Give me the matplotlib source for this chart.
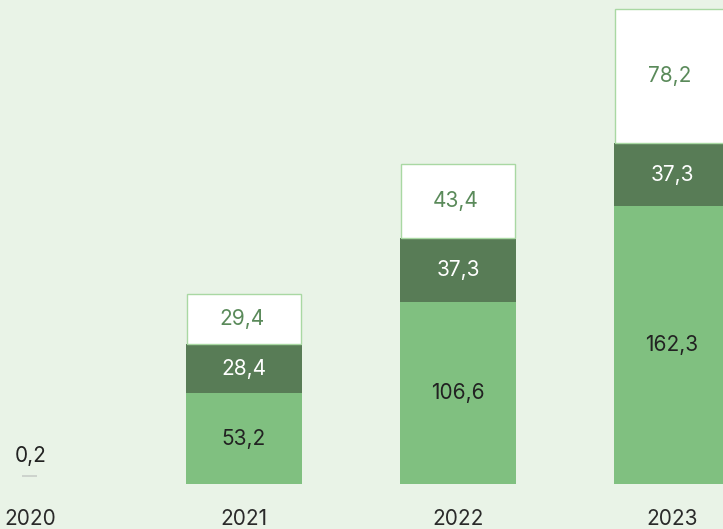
import matplotlib.pyplot as plt

# Values per year (stacked: base, middle, top)
years = ["2020", "2021", "2022", "2023"]
base = [0.2, 53.2, 106.6, 162.3]
middle = [0.0, 28.4, 37.3, 37.3]
top = [0.0, 29.4, 43.4, 78.2]

BG = "#e9f3e7"
LIGHT = "#80c080"
DARK = "#587c56"
EDGE = "#a9d8a3"
TXT_TOP = "#5a8a5a"
FS = 15

plt.rcParams["font.family"] = ["Inter", "DejaVu Sans"]

fig = plt.figure(figsize=(7.23, 5.29), dpi=100, facecolor=BG)
ax = fig.add_axes([0, 0, 1, 1], facecolor=BG)

x = list(range(len(years)))
w = 0.542

def fmt(v):
    return f"{v:.1f}".replace(".", ",")

for i in x:
    if i == 0:
        # first year is too small to stack: a short grey tick plus label
        ax.bar(i, base[i], bottom=4.6, width=0.07, color="#c8cdc8",
               edgecolor="#c8cdc8", linewidth=1.2)
        ax.text(i + 0.005, 16.5, fmt(base[i]), ha="center", va="center",
                fontsize=FS, color="#222222")
    else:
        ax.bar(i, base[i], width=w, color=LIGHT, linewidth=0)
        ax.bar(i, middle[i], bottom=base[i], width=w, color=DARK, linewidth=0)
        ax.bar(i, top[i], bottom=base[i] + middle[i], width=w * 0.985,
               color="white", edgecolor=EDGE, linewidth=1.0)
        ax.text(i, base[i] / 2, fmt(base[i]), ha="center", va="center",
                fontsize=FS, color="#222222")
        ax.text(i, base[i] + middle[i] / 2, fmt(middle[i]), ha="center",
                va="center", fontsize=FS, color="white")
        ax.text(i - 0.01, base[i] + middle[i] + top[i] / 2, fmt(top[i]),
                ha="center", va="center", fontsize=FS, color=TXT_TOP)
    ax.text(i, -20.5, years[i], ha="center", va="center",
            fontsize=FS, color="#2a2a2a")

ax.set_xlim(-0.140, 3.238)
ax.set_ylim(-26.3, 283.0)
ax.set_axis_off()

fig.savefig("out.png", dpi=100, facecolor=BG)
